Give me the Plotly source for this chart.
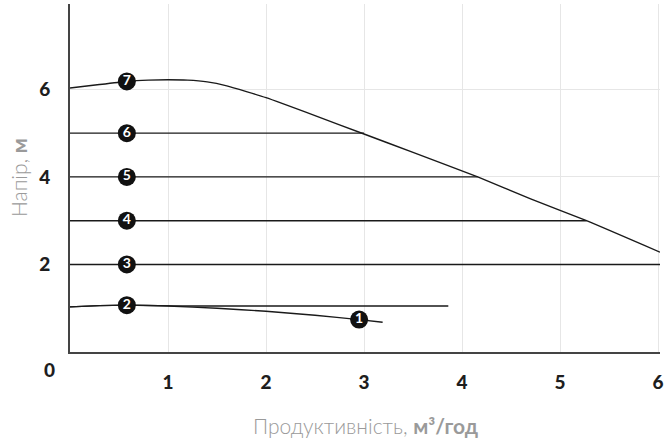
import plotly.graph_objects as go

# Data
x7 = [0.0, 0.3, 0.58, 0.8, 1.0, 1.2, 1.4, 1.6, 1.8, 2.0, 2.5, 3.0, 3.5, 4.16, 4.7, 5.27, 6.02]
y7 = [6.03, 6.11, 6.18, 6.21, 6.22, 6.21, 6.17, 6.08, 5.95, 5.81, 5.4, 4.98, 4.56, 4.0, 3.5, 3.0, 2.28]
x6 = [0.0, 3.0]; y6 = [5.0, 5.0]
x5 = [0.0, 4.16]; y5 = [4.0, 4.0]
x4 = [0.0, 5.27]; y4 = [3.0, 3.0]
x3 = [0.0, 6.02]; y3 = [2.0, 2.0]
x2 = [0.0, 0.3, 0.58, 0.9, 1.2, 3.86]; y2 = [1.03, 1.06, 1.07, 1.06, 1.05, 1.05]
x1 = [0.0, 0.3, 0.58, 1.0, 1.5, 2.0, 2.5, 2.95, 3.19]
y1 = [1.03, 1.06, 1.07, 1.05, 1.0, 0.93, 0.84, 0.74, 0.68]

label_x = [2.95, 0.58, 0.58, 0.58, 0.58, 0.58, 0.58]
label_y = [0.74, 1.07, 2.0, 3.0, 4.0, 5.0, 6.18]
label_text = ["1", "2", "3", "4", "5", "6", "7"]

x_ticks = [1, 2, 3, 4, 5, 6]
y_ticks = [2, 4, 6]

x_title = "Продуктивність, <b>м³/год</b>"
y_title = "Напір, <b>м</b>"

FONT = "Lato"
line_color = "#1a1a1a"
fig = go.Figure()
for xs, ys in [(x1, y1), (x2, y2), (x3, y3), (x4, y4), (x5, y5), (x6, y6), (x7, y7)]:
    fig.add_trace(go.Scatter(x=xs, y=ys, mode="lines", line=dict(color=line_color, width=1.4, shape="spline", smoothing=0.5),
                             hoverinfo="skip", showlegend=False, cliponaxis=False))

fig.add_trace(go.Scatter(x=label_x, y=label_y, mode="markers+text", text=["<b>%s</b>" % t for t in label_text],
                         textposition="middle center",
                         marker=dict(size=18, color="#111111"),
                         textfont=dict(family=FONT, size=14, color="white"),
                         showlegend=False, hoverinfo="skip", cliponaxis=False))

tick_font = dict(family=FONT, size=19, color="#1e1e1e", weight=900)
fig.update_xaxes(range=[0, 6.02], tickvals=x_ticks, showgrid=True, gridcolor="#e6e6e6", gridwidth=1,
                 showline=True, linecolor="#444444", linewidth=2, zeroline=False,
                 ticks="", ticklabelstandoff=12, automargin=False, tickfont=tick_font)
fig.update_yaxes(range=[0, 7.95], tickvals=y_ticks, showgrid=True, gridcolor="#e6e6e6", gridwidth=1,
                 showline=True, linecolor="#444444", linewidth=2, zeroline=False,
                 ticks="", ticklabelstandoff=14, automargin=False, tickfont=tick_font)

fig.add_annotation(x=0, y=0, xref="paper", yref="paper", text="0", showarrow=False,
                   xanchor="right", yanchor="top", xshift=-13, yshift=-4, font=tick_font)

title_font = dict(family=FONT, size=21, color="#9a9a9a", weight=300)
fig.add_annotation(x=0.5, y=0, xref="paper", yref="paper", text=x_title, showarrow=False,
                   xanchor="center", yanchor="middle", yshift=-73, font=title_font)
fig.add_annotation(x=0, y=0.5, xref="paper", yref="paper", text=y_title, showarrow=False, textangle=-90,
                   xanchor="center", yanchor="middle", xshift=-52, font=title_font)

fig.update_layout(width=664, height=438, margin=dict(l=70, r=4, t=4, b=86),
                  plot_bgcolor="white", paper_bgcolor="white")

fig.write_html("out.html", config={"displayModeBar": False},
               post_script="document.body.style.margin='0';document.body.style.overflow='hidden';")
